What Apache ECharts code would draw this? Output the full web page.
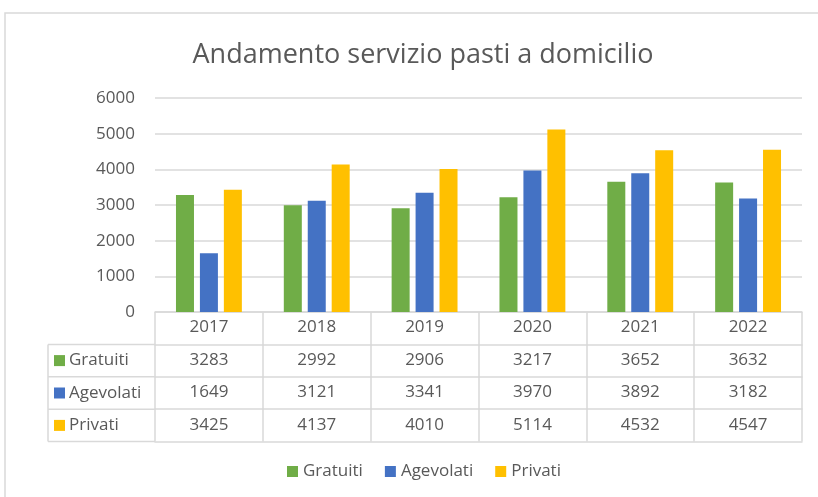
<!DOCTYPE html>
<html>
<head>
<meta charset="utf-8">
<script src="https://cdn.jsdelivr.net/npm/echarts@6/dist/echarts.min.js"></script>
<style>
  html, body { margin: 0; padding: 0; background: #fff; }
  #main { width: 818px; height: 497px; }
</style>
</head>
<body>
<div id="main"></div>
<script>
var years = ['2017', '2018', '2019', '2020', '2021', '2022'];
var seriesNames = ['Gratuiti', 'Agevolati', 'Privati'];
var gratuiti = [3283, 2992, 2906, 3217, 3652, 3632];
var agevolati = [1649, 3121, 3341, 3970, 3892, 3182];
var privati = [3425, 4137, 4010, 5114, 4532, 4547];
var yTicks = [0, 1000, 2000, 3000, 4000, 5000, 6000];

var colors = ['#70AD47', '#4472C4', '#FFC000'];
var font = "'Open Sans', 'Noto Sans', sans-serif";
var txt = '#595959';
var line = '#d9d9d9';
var fs = 17;
var rows = [gratuiti, agevolati, privati];

// table geometry (px)
var axisY = 312, rowH = 32.4, keyLeft = 48, plotLeft = 155;

var xAxes = [{
    type: 'category',
    data: years,
    position: 'bottom',
    axisLine: { lineStyle: { color: line, width: 1.5 } },
    axisTick: { show: true, length: rowH * 4, lineStyle: { color: line, width: 1.5 } },
    axisLabel: { color: txt, fontSize: fs, fontFamily: font, margin: 7 }
}];
rows.forEach(function (vals, i) {
    xAxes.push({
        type: 'category',
        data: vals.map(String),
        position: 'bottom',
        offset: rowH * (i + 1),
        axisLine: { lineStyle: { color: line, width: 1.5 } },
        axisTick: { show: false },
        axisLabel: { color: txt, fontSize: fs, fontFamily: font, margin: 7 }
    });
});
xAxes.push({
    type: 'category',
    data: years,
    position: 'bottom',
    offset: rowH * 4,
    axisLine: { lineStyle: { color: line, width: 1.5 } },
    axisTick: { show: false },
    axisLabel: { show: false }
});

// left key column of the data table
var keyGraphics = [
    { type: 'line', shape: { x1: keyLeft, y1: axisY + rowH, x2: keyLeft, y2: axisY + rowH * 4 }, style: { stroke: line, lineWidth: 1.5 } }
];
for (var r = 1; r <= 4; r++) {
    keyGraphics.push({ type: 'line', shape: { x1: keyLeft, y1: axisY + rowH * r, x2: plotLeft, y2: axisY + rowH * r }, style: { stroke: line, lineWidth: 1.5 } });
}
seriesNames.forEach(function (name, i) {
    var cy = axisY + rowH * (i + 1) + rowH / 2;
    keyGraphics.push({ type: 'rect', shape: { x: keyLeft + 6, y: cy - 5.5, width: 11, height: 11 }, style: { fill: colors[i] } });
    keyGraphics.push({ type: 'text', x: keyLeft + 21, y: cy, style: { text: name, fill: txt, fontSize: fs, fontFamily: font, verticalAlign: 'middle' } });
});
keyGraphics.push({ type: 'rect', shape: { x: 5, y: 13, width: 900, height: 600 }, style: { fill: 'none', stroke: line, lineWidth: 1.5 }, silent: true });

var myChart = echarts.init(document.getElementById('main'));
myChart.setOption({
    color: colors,
    title: {
        text: 'Andamento servizio pasti a domicilio',
        left: 418,
        textAlign: 'center',
        top: 37,
        textStyle: { color: txt, fontSize: 27, fontWeight: 'normal', fontFamily: font }
    },
    legend: {
        data: seriesNames,
        bottom: 12,
        left: 282,
        icon: 'rect',
        itemWidth: 11,
        itemHeight: 11,
        itemGap: 22,
        textStyle: { color: txt, fontSize: fs, fontFamily: font }
    },
    grid: { left: plotLeft, right: 16, top: 98, bottom: 497 - axisY, containLabel: false },
    xAxis: xAxes,
    yAxis: {
        type: 'value',
        min: yTicks[0],
        max: yTicks[yTicks.length - 1],
        interval: 1000,
        axisLine: { show: false },
        axisTick: { show: false },
        axisLabel: { color: txt, fontSize: fs, fontFamily: font, margin: 20, formatter: function (v) { return String(v); } },
        splitLine: { lineStyle: { color: line, width: 1.5 } }
    },
    graphic: keyGraphics,
    series: [
        { name: seriesNames[0], type: 'bar', data: gratuiti, barWidth: 18, barGap: '33%' },
        { name: seriesNames[1], type: 'bar', data: agevolati, barWidth: 18, barGap: '33%' },
        { name: seriesNames[2], type: 'bar', data: privati, barWidth: 18, barGap: '33%' }
    ]
});
</script>
</body>
</html>
